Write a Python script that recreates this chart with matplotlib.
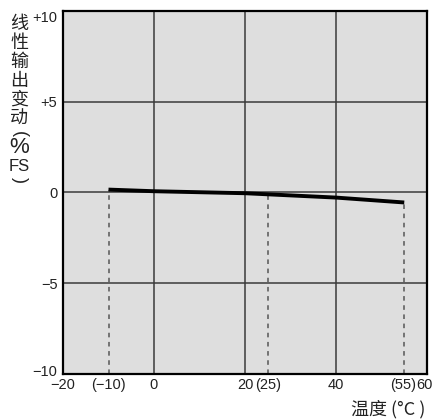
import matplotlib
matplotlib.use("Agg")
import matplotlib.pyplot as plt
from matplotlib.transforms import ScaledTranslation

# data
temp = [-10, 0, 20, 25, 40, 55]
output_change = [0.16, 0.07, -0.04, -0.10, -0.28, -0.55]
drop_temps = [-10, 25, 55]
drop_vals = [0.16, -0.10, -0.55]
xtick_vals = [-20, -10, 0, 20, 25, 40, 55, 60]
xtick_labels = ["\u221220", "(\u221210)", "0", "20", "(25)", "40", "(55)", "60"]
ytick_vals = [-10, -5, 0, 5, 10]
ytick_labels = ["\u221210", "\u22125", "0", "+5", "+10"]
ylabel_chars = ["线", "性", "输", "出", "变", "动", "(", "%", "FS", ")"]
ylabel_y = [24, 43, 62, 81, 100, 119, 134, 147, 166, 180]
xlabel_text = "温度 (°C )"

plt.rcParams['font.family'] = ['Liberation Sans', 'Noto Sans CJK SC', 'DejaVu Sans']

fig = plt.figure(figsize=(4.32, 4.19), dpi=100)
ax = fig.add_axes([63/432, 1-374/419, (427-63)/432, (374-11)/419])
ax.set_facecolor('#dedede')
ax.set_xlim(-20, 60)
ax.set_ylim(-10, 10)

for gx in [0, 20, 40]:
    ax.axvline(gx, color='#3a3a3a', lw=1.1, zorder=1)
for gy in [-5, 0, 5]:
    ax.axhline(gy, color='#3a3a3a', lw=1.1, zorder=1)

for t, v in zip(drop_temps, drop_vals):
    ax.plot([t, t], [-10, v], color='#555555', lw=1.1, ls=(0, (3, 3)), zorder=2)

ax.plot(temp, output_change, color='black', lw=2.8, solid_capstyle='butt', zorder=3)

for s in ax.spines.values():
    s.set_linewidth(1.6)
    s.set_color('black')

ax.set_xticks(xtick_vals)
ax.set_xticklabels(xtick_labels, fontsize=10.5, color='#222222')
ax.set_yticks(ytick_vals)
ax.set_yticklabels(ytick_labels, fontsize=10.5, color='#222222')
ax.tick_params(axis='x', length=0, pad=3)
ax.tick_params(axis='y', length=0, pad=4)
labs = ax.get_xticklabels()
labs[-1].set_transform(labs[-1].get_transform() + ScaledTranslation(-3/100, 0, fig.dpi_scale_trans))
labs[-2].set_transform(labs[-2].get_transform() + ScaledTranslation(-1/100, 0, fig.dpi_scale_trans))
ylabs = ax.get_yticklabels()
ylabs[0].set_transform(ylabs[0].get_transform() + ScaledTranslation(0, 4/100, fig.dpi_scale_trans))
ylabs[-1].set_transform(ylabs[-1].get_transform() + ScaledTranslation(0, -5/100, fig.dpi_scale_trans))

cjk = ['Noto Sans CJK SC', 'DejaVu Sans']
for ch, yy in zip(ylabel_chars, ylabel_y):
    fs, fam, rot = 13, cjk, 0
    if ch == "FS":
        fs, fam = 12, ['Liberation Sans', 'DejaVu Sans']
    elif ch == "%":
        fs, fam = 16, ['Liberation Sans', 'DejaVu Sans']
    elif ch in "()":
        fs, fam, rot = 13, ['Liberation Sans', 'DejaVu Sans'], 270
    fig.text(19/432, 1-yy/419, ch, ha='center', va='center', fontsize=fs,
             family=fam, color='#222222', rotation=rot)
fig.text(425/432, 1-409/419, xlabel_text, ha='right', va='center', fontsize=13,
         family=cjk, color='#222222')

fig.savefig("out.png", dpi=100)
